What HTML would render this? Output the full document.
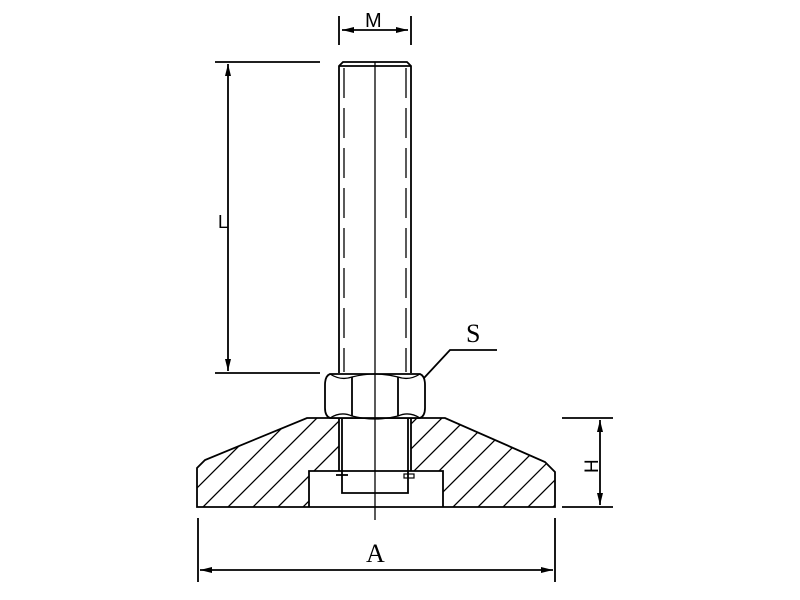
<!DOCTYPE html>
<html><head><meta charset="utf-8"><style>body{margin:0;background:#fff}svg{display:block}</style></head><body>
<svg width="800" height="600" viewBox="0 0 800 600" xmlns="http://www.w3.org/2000/svg" font-family="Liberation Serif, serif">
<defs>
<clipPath id="base"><path d="M307,418 L445,418 L545,462 L555,472 L555,507 L443,507 L443,471 L309,471 L309,507 L197,507 L197,468 L205,460 Z"/></clipPath>
</defs>
<g stroke="#000" stroke-width="1.8" fill="none">
<g clip-path="url(#base)" stroke-width="1.3">
<path d="M150,560 L330,380 M175,560 L355,380 M200,560 L380,380 M225,560 L405,380 M250,560 L430,380 M275,560 L455,380 M300,560 L480,380 M325,560 L505,380 M350,560 L530,380 M375,560 L555,380 M400,560 L580,380 M425,560 L605,380 M450,560 L630,380 M475,560 L655,380 M500,560 L680,380 M525,560 L705,380 M550,560 L730,380 M125,560 L305,380"/>
</g>
<rect x="339" y="418" width="72" height="53" fill="#fff" stroke="none"/>
<path d="M307,418 L445,418 L545,462 L555,472 L555,507 L197,507 L197,468 L205,460 Z"/>
<path d="M309,507 L309,471 L443,471 L443,507"/>
<path d="M342,471 L342,493 L408,493 L408,471"/>
<path d="M339,418 L339,471 M411,418 L411,471 M342,418 V471 M408,418 V471"/>
<rect x="404" y="474" width="10" height="4" stroke-width="1.2"/>
<path d="M336,475 H348" />
<path d="M339,373 L339,66 L343,62 L407,62 L411,66 L411,373"/>
<path d="M339,66 H411"/>
<path d="M344,68 V372 M406,68 V372" stroke-width="1.3" stroke-dasharray="30,10"/>
<path d="M330,374 Q325,376 325,385 L325,408 Q325,416 330,418 L420,418 Q425,416 425,408 L425,385 Q425,376 420,374 Z" fill="#fff"/>
<path d="M352,377 V416 M398,377 V416"/>
<path d="M330,374 Q341,381 352,377 Q375,371 398,377 Q409,381 420,374 M330,418 Q341,411 352,416 Q375,422 398,416 Q409,411 420,418" stroke-width="1.3"/>
<path d="M375,62 V520" stroke-width="1.3"/>
<path d="M339,16 V45 M411,16 V45 M342,30 H408"/>
<path d="M215,62 H320 M215,373 H320 M228,64 V371"/>
<path d="M424,378 L450,350 H497"/>
<path d="M562,418 H613 M562,507 H613 M600,420 V505"/>
<path d="M198,518 V582 M555,518 V582 M200,570 H553"/>
</g>
<g fill="#000">
<path d="M342,30 l12,-3 v6 z M408,30 l-12,-3 v6 z"/>
<path d="M228,64 l-3,12 h6 z M228,371 l-3,-12 h6 z"/>
<path d="M600,420 l-3,12 h6 z M600,505 l-3,-12 h6 z"/>
<path d="M200,570 l12,-3 v6 z M553,570 l-12,-3 v6 z"/>
</g>
<g font-family="Liberation Sans, sans-serif" fill="#000">
<text x="365" y="27" font-size="20">M</text>
<text x="218" y="228" font-size="18">L</text>
<text x="0" y="0" transform="translate(598,473) rotate(-90)" font-size="19">H</text>
</g>
<g font-family="Liberation Serif, serif" font-size="26" fill="#000">
<text x="466" y="342">S</text>
<text x="366" y="562">A</text>
</g>
</svg>
</body></html>
